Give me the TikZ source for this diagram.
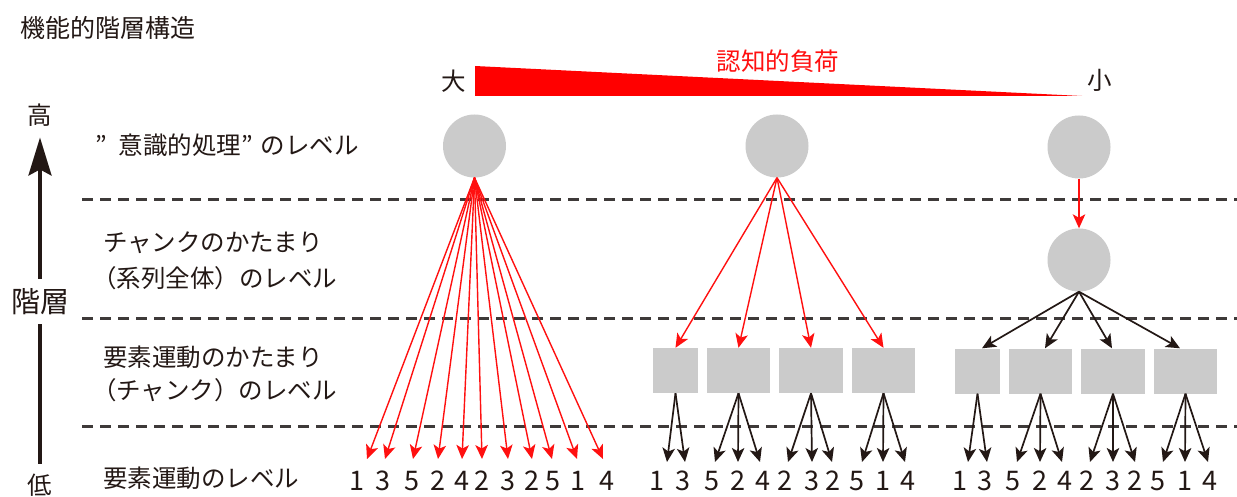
\documentclass[tikz,border=0pt]{standalone}
\usepackage{fontspec}
\setmainfont{Noto Sans CJK JP}
\usetikzlibrary{arrows.meta}
\definecolor{ink}{HTML}{231815}
\definecolor{shape}{HTML}{CBCBCB}
\definecolor{dashc}{HTML}{3E3A39}
\definecolor{redc}{HTML}{FF1010}
\tikzset{
  txt/.style={font=\fontsize{24.5}{28}\selectfont, text=ink, inner sep=0pt},
  num/.style={font=\fontsize{27}{30}\selectfont, text=ink, inner sep=0pt},
  ball/.style={circle, fill=shape, minimum size=63pt, inner sep=0pt},
  blk/.style={rectangle, fill=shape, minimum height=45pt, inner sep=0pt},
  rarr/.style={draw=redc, line width=1.4pt, -{Stealth[length=14pt,width=12.5pt,inset=3.5pt]}},
  barr/.style={draw=ink, line width=1.7pt, -{Stealth[length=14pt,width=12.5pt,inset=3.5pt]}},
  lvl/.style={draw=dashc, line width=3pt, dash pattern=on 11pt off 7pt},
  axis/.style={draw=ink, line width=3.5pt},
}
\begin{document}
\begin{tikzpicture}[x=1pt,y=-1pt]
\useasboundingbox (0,0) rectangle (1237,497);
\fill[white] (0,0) rectangle (1237,497);

% title
\node[txt, anchor=west, font=\fontsize{25}{28}\selectfont] (title) at (20,28) {機能的階層構造};

% axis
\node[txt] (hi) at (40,115) {高};
\node[txt, font=\fontsize{29}{32}\selectfont] (kai) at (40,302) {階層};
\node[txt] (lo) at (40,485) {低};
\draw[axis, -{Stealth[length=38pt,width=23pt,inset=6pt]}, shorten <=10pt, shorten >=11pt] (kai.north) -- (hi.south);
\draw[axis, shorten <=9pt, shorten >=10pt] (kai.south) -- (lo.north);

% level labels
\node[txt, anchor=west] (l1) at (95,145) {”\hspace{12pt}意識的処理”\hspace{8pt}のレベル};
\node[txt, anchor=west] (l2a) at (103,243) {チャンクのかたまり};
\node[txt, anchor=west] (l2b) at (92,278) {（系列全体）のレベル};
\node[txt, anchor=west] (l3a) at (103,357) {要素運動のかたまり};
\node[txt, anchor=west] (l3b) at (92,390) {（チャンク）のレベル};
\node[txt, anchor=west] (l4) at (103,478) {要素運動のレベル};

% dashed level separators
\draw[lvl] (82,200) -- (1237,200);
\draw[lvl] (82,318) -- (1237,318);
\draw[lvl] (82,426) -- (1237,426);

% cognitive load wedge
\fill[red] (475,66) -- (475,96) -- (1082,96) -- cycle;
\node[txt] (big) at (454,81) {大};
\node[txt] (small) at (1100,80) {小};
\node[txt, text=redc] (load) at (778,61) {認知的負荷};

% circles
\node[ball] (c1) at (474.5,146) {};
\node[ball] (c2) at (777,146) {};
\node[ball] (c3) at (1079,147) {};
\node[ball] (c4) at (1079,260) {};

% boxes
\node[blk, minimum width=45pt] (m1) at (675.5,370.5) {};
\node[blk, minimum width=63pt] (m2) at (738.5,370.5) {};
\node[blk, minimum width=64pt] (m3) at (811,370.5) {};
\node[blk, minimum width=63pt] (m4) at (883.5,370.5) {};
\node[blk, minimum width=45pt] (r1) at (977.5,371) {};
\node[blk, minimum width=63pt] (r2) at (1040.5,371) {};
\node[blk, minimum width=64pt] (r3) at (1113,371) {};
\node[blk, minimum width=63pt] (r4) at (1185.5,371) {};

% left group: direct from conscious level
\foreach \x/\d/\t [count=\i] in {357/1/367,383/3/385,412/5/413,438/2/438,462/4/462,482/2/482,508/3/508,532/2/532,553/5/552,578/1/577,607/4/603}{
  \node[num] (L\i) at (\x,481) {\d};
  \coordinate (LT\i) at (\t,459);
  \draw[rarr] (c1.south) -- (LT\i);
}

% middle group
\foreach \b in {m1,m2,m3,m4}{ \draw[rarr] (c2.south) -- (\b.north); }
\foreach \x/\d/\t/\b [count=\i] in {657/1/667/m1,683/3/685/m1,712/5/715/m2,738/2/738/m2,763/4/760/m2,785/2/788/m3,812/3/812/m3,833/2/832/m3,857/5/862/m4,883/1/883/m4,908/4/905/m4}{
  \node[num] (M\i) at (\x,481) {\d};
  \coordinate (MT\i) at (\t,462);
  \draw[barr] (\b.south) -- (MT\i);
}

% right group
\draw[rarr] (c3.south) -- (c4.north);
\draw[barr] (c4.south) -- ([xshift=4.5pt]r1.north);
\draw[barr] (c4.south) -- ([xshift=4.5pt]r2.north);
\draw[barr] (c4.south) -- ([xshift=-1pt]r3.north);
\draw[barr] (c4.south) -- ([xshift=-5.5pt]r4.north);
\foreach \x/\d/\t/\b [count=\i] in {960/1/968/r1,985/3/987/r1,1013/5/1017/r2,1040/2/1040/r2,1065/4/1062/r2,1087/2/1090/r3,1113/3/1113/r3,1135/2/1135/r3,1158/5/1163/r4,1185/1/1185/r4,1210/4/1208/r4}{
  \node[num] (R\i) at (\x,481) {\d};
  \coordinate (RT\i) at (\t,462);
  \draw[barr] (\b.south) -- (RT\i);
}
\end{tikzpicture}
\end{document}
